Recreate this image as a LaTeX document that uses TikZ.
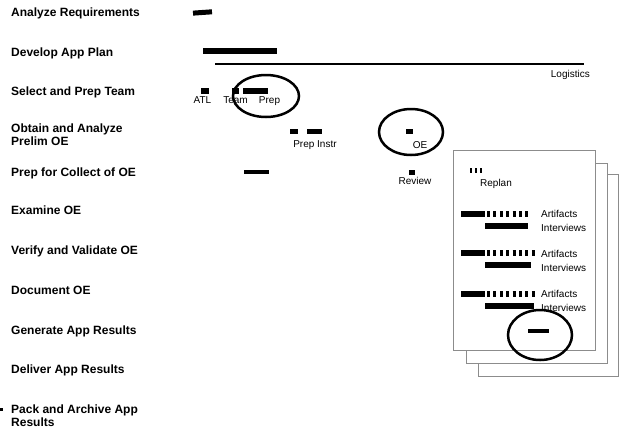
\documentclass[tikz,border=0pt]{standalone}
\usepackage{fontspec}
\setmainfont{Liberation Sans}
\usetikzlibrary{positioning}
\def\taskfont{\fontsize{12}{13}\selectfont\bfseries}
\def\notefont{\fontsize{10}{11}\selectfont}

\begin{document}
\begin{tikzpicture}[x=1pt,y=-1pt,
    task/.style={anchor=base west,inner sep=0pt,font=\taskfont,align=left},
    note/.style={anchor=base,inner sep=0pt,font=\notefont},
    bar/.style={fill=black},
    dashbar/.style={line width=6pt,dash pattern=on 3pt off 3.4pt},
    ring/.style={line width=2.5pt},
    page/.style={draw=black!45,fill=white,line width=0.9pt}]
    \useasboundingbox (0,0) rectangle (621,432);
    % task names (two-line names sit on their last line)
    \node[task] (req) at (11,16) {Analyze Requirements};
    \node[task] (plan) at (11,56) {Develop App Plan};
    \node[task] (team) at (11,95) {Select and Prep Team};
    \node[task] (prelim) at (11,145) {Obtain and Analyze\\Prelim OE};
    \node[task] (collect) at (11,176) {Prep for Collect of OE};
    \node[task] (examine) at (11,214) {Examine OE};
    \node[task] (verify) at (11,254) {Verify and Validate OE};
    \node[task] (document) at (11,294) {Document OE};
    \node[task] (generate) at (11,334) {Generate App Results};
    \node[task] (deliver) at (11,373) {Deliver App Results};
    \node[task] (archive) at (11,426) {Pack and Archive App\\Results};
    \fill[bar] (0,408) rectangle (3,411);
    % plan bars
    \fill[bar,rotate around={4:(202,12.5)}] (193,10) rectangle (212,15);
    \fill[bar] (203,48) rectangle (277,54);
    \fill[bar] (215,62.5) rectangle (584,64.5);
    \node[note,anchor=base east] (logistics) at (590,77.6) {Logistics};
    \fill[bar] (201,88) rectangle (209,94);
    \fill[bar] (232,88) rectangle (239,94);
    \fill[bar] (243,88) rectangle (268,94);
    \node[note] (atl) at (202.5,103.6) {ATL};
    \node[note] (teamlbl) at (235.5,103.6) {Team};
    \node[note] (prep) at (269.5,103.6) {Prep};
    \fill[bar] (290,129) rectangle (298,134);
    \fill[bar] (307,129) rectangle (322,134);
    \node[note] (instr) at (315,147.6) {Prep Instr};
    \fill[bar] (406,129) rectangle (413,134);
    \node[note] (oe) at (420,148.6) {OE};
    \fill[bar] (244,170) rectangle (269,174);
    \fill[bar] (409,169.5) rectangle (415,174.5);
    \node[note] (review) at (415,184.6) {Review};
    % stacked pages
    \draw[page] (478,174) rectangle (618,376);
    \draw[page] (466,163) rectangle (607,363);
    \draw[page] (453,150) rectangle (595,350);
    \draw[line width=5pt,dash pattern=on 2pt off 3pt] (470,170.5) -- (483,170.5);
    \node[note] (replan) at (496,186.6) {Replan};
    \foreach \y/\e/\f in {214/528/528, 253/537/531, 294/537/534} {
        \fill[bar] (461,\y-3) rectangle (485,\y+3);
        \draw[dashbar] (487,\y) -- (\e,\y);
        \fill[bar] (485,\y+9) rectangle (\f,\y+15);
    }
    \node[note,anchor=base west] (art1) at (541,217.6) {Artifacts};
    \node[note,anchor=base west] (int1) at (541,231.6) {Interviews};
    \node[note,anchor=base west] (art2) at (541,257.6) {Artifacts};
    \node[note,anchor=base west] (int2) at (541,271.6) {Interviews};
    \node[note,anchor=base west] (art3) at (541,297.6) {Artifacts};
    \node[note,anchor=base west] (int3) at (541,311.6) {Interviews};
    \fill[bar] (528,329) rectangle (549,333);
    % rings
    \draw[ring] (266,96) ellipse [x radius=33pt,y radius=21pt];
    \draw[ring] (411,132) ellipse [x radius=32pt,y radius=23pt];
    \draw[ring] (540,335) ellipse [x radius=32pt,y radius=25pt];
\end{tikzpicture}
\end{document}
